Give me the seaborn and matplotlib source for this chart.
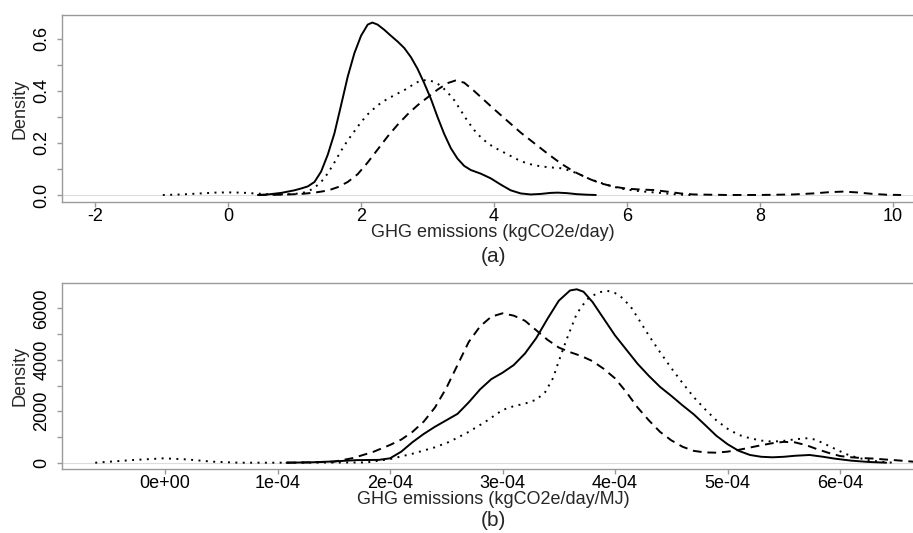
import numpy as np
import pandas as pd
import matplotlib
matplotlib.use("Agg")
import matplotlib.pyplot as plt
import seaborn as sns

# ---------------- data ----------------
# Panel (a): GHG emissions (kgCO2e/day)
a_solid_x = [0.45, 0.6, 0.8, 1.0, 1.1, 1.2, 1.3, 1.4, 1.5, 1.6, 1.7, 1.8, 1.9, 2.0, 2.1, 2.17, 2.25, 2.35, 2.45,
             2.55, 2.65, 2.75, 2.85, 2.95, 3.05, 3.15, 3.25, 3.35, 3.45, 3.55, 3.65, 3.8, 3.95, 4.1, 4.25, 4.4,
             4.55, 4.7, 4.85, 4.96, 5.1, 5.25, 5.4, 5.53]
a_solid_y = [0.0, 0.002, 0.008, 0.018, 0.025, 0.033, 0.05, 0.09, 0.155, 0.237, 0.345, 0.455, 0.545, 0.612,
             0.655, 0.663, 0.655, 0.635, 0.612, 0.59, 0.565, 0.53, 0.485, 0.43, 0.37, 0.30, 0.235, 0.18, 0.14,
             0.112, 0.096, 0.082, 0.064, 0.04, 0.018, 0.006, 0.002, 0.004, 0.008, 0.009, 0.007, 0.003, 0.001, 0.0]

a_dash_x = [0.45, 0.8, 1.1, 1.3, 1.5, 1.65, 1.8, 1.95, 2.1, 2.25, 2.4, 2.55, 2.7, 2.85, 3.0, 3.15, 3.3, 3.42,
            3.55, 3.7, 3.85, 4.0, 4.2, 4.4, 4.6, 4.8, 5.0, 5.2, 5.4, 5.6, 5.8, 6.0, 6.2, 6.4, 6.6, 6.8, 7.0,
            7.5, 8.0, 8.5, 8.8, 9.05, 9.25, 9.45, 9.7, 9.9, 10.12]
a_dash_y = [0.0, 0.001, 0.004, 0.009, 0.017, 0.03, 0.05, 0.08, 0.125, 0.175, 0.225, 0.27, 0.31, 0.345, 0.375,
            0.405, 0.43, 0.44, 0.432, 0.40, 0.365, 0.33, 0.285, 0.24, 0.2, 0.16, 0.122, 0.09, 0.065, 0.045,
            0.032, 0.024, 0.021, 0.019, 0.013, 0.006, 0.002, 0.0, 0.0, 0.002, 0.006, 0.011, 0.013, 0.010, 0.004,
            0.001, 0.0]

a_dot_x = [-0.98, -0.7, -0.41, -0.2, 0.0, 0.2, 0.4, 0.6, 0.8, 1.0, 1.1, 1.2, 1.3, 1.4, 1.5, 1.6, 1.7, 1.8, 1.9,
           2.0, 2.1, 2.25, 2.4, 2.55, 2.7, 2.8, 2.9, 3.0, 3.1, 3.2, 3.3, 3.4, 3.5, 3.6, 3.7, 3.8, 3.9, 4.0, 4.1,
           4.25, 4.4, 4.55, 4.7, 4.85, 5.0, 5.15, 5.3, 5.45, 5.6, 5.75, 5.9, 6.1, 6.3, 6.5, 6.7, 6.9, 7.0]
a_dot_y = [0.0, 0.002, 0.006, 0.009, 0.010, 0.009, 0.006, 0.003, 0.002, 0.004, 0.007, 0.013, 0.028, 0.05,
           0.083, 0.125, 0.17, 0.21, 0.245, 0.28, 0.31, 0.345, 0.37, 0.39, 0.41, 0.428, 0.44, 0.442, 0.435,
           0.42, 0.395, 0.365, 0.325, 0.285, 0.25, 0.222, 0.2, 0.183, 0.17, 0.15, 0.13, 0.118, 0.11, 0.106,
           0.103, 0.093, 0.078, 0.06, 0.047, 0.035, 0.025, 0.017, 0.012, 0.008, 0.003, 0.0, 0.0]

# Panel (b): GHG emissions (kgCO2e/day/MJ), x in units of 1e-04
b_unit = 1e-4
b_solid_x = [1.08, 1.3, 1.5, 1.7, 1.9, 2.0, 2.1, 2.2, 2.3, 2.4, 2.5, 2.6, 2.7, 2.8, 2.9, 3.0, 3.1, 3.2, 3.3,
             3.4, 3.5, 3.6, 3.66, 3.72, 3.8, 3.9, 4.0, 4.1, 4.2, 4.3, 4.4, 4.5, 4.6, 4.7, 4.8, 4.9, 5.0, 5.1,
             5.2, 5.3, 5.4, 5.5, 5.6, 5.73, 5.85, 5.95, 6.1, 6.25, 6.41]
b_solid_y = [0, 15, 50, 100, 110, 170, 430, 800, 1120, 1400, 1650, 1900, 2350, 2850, 3250, 3500, 3800, 4250,
             4850, 5600, 6300, 6700, 6745, 6650, 6250, 5600, 4950, 4400, 3850, 3380, 2950, 2600, 2230, 1880,
             1470, 1050, 720, 460, 300, 230, 210, 230, 270, 300, 230, 160, 80, 30, 0]

b_dash_x = [1.08, 1.3, 1.5, 1.67, 1.85, 2.0, 2.1, 2.2, 2.3, 2.4, 2.5, 2.6, 2.7, 2.8, 2.9, 3.0, 3.1, 3.2, 3.3,
            3.4, 3.5, 3.6, 3.7, 3.8, 3.9, 4.0, 4.1, 4.2, 4.3, 4.4, 4.5, 4.6, 4.7, 4.8, 4.9, 5.0, 5.1, 5.2, 5.3,
            5.4, 5.5, 5.6, 5.7, 5.8, 5.9, 6.0, 6.1, 6.2, 6.3, 6.4, 6.5, 6.65, 6.8]
b_dash_y = [0, 15, 40, 180, 420, 690, 900, 1200, 1600, 2150, 2900, 3800, 4700, 5300, 5680, 5811, 5720, 5520,
            5150, 4780, 4480, 4300, 4150, 3950, 3650, 3280, 2750, 2150, 1650, 1200, 870, 620, 460, 400, 390,
            430, 500, 590, 680, 760, 810, 790, 680, 520, 380, 260, 210, 180, 160, 125, 95, 40, 10]

b_dot_x = [-0.62, -0.28, -0.015, 0.19, 0.42, 0.66, 1.0, 1.5, 1.79, 2.0, 2.2, 2.4, 2.53, 2.7, 2.85, 3.0, 3.1,
           3.2, 3.3, 3.38, 3.45, 3.5, 3.57, 3.66, 3.75, 3.85, 3.93, 4.0, 4.07, 4.15, 4.2, 4.3, 4.4, 4.5, 4.6,
           4.7, 4.8, 4.9, 5.0, 5.1, 5.2, 5.3, 5.4, 5.5, 5.6, 5.7, 5.78, 5.85, 5.95, 6.05, 6.15, 6.25, 6.35, 6.47]
b_dot_y = [0, 105, 170, 130, 40, 0, 0, 5, 10, 140, 350, 600, 817, 1200, 1600, 2050, 2200, 2300, 2450, 2750,
           3300, 3950, 4800, 5800, 6350, 6620, 6690, 6600, 6395, 6000, 5650, 4950, 4300, 3680, 3100, 2550,
           2080, 1650, 1320, 1080, 950, 860, 820, 850, 910, 950, 900, 760, 550, 340, 200, 100, 40, 0]

series_names = ["solid", "dashed", "dotted"]

a_xticks = [-2, 0, 2, 4, 6, 8, 10]
a_xticklabels = ["-2", "0", "2", "4", "6", "8", "10"]
a_yticks = [0.0, 0.1, 0.2, 0.3, 0.4, 0.5, 0.6]
a_yticklabels = ["0.0", "", "0.2", "", "0.4", "", "0.6"]

b_xticks = [0, 1e-4, 2e-4, 3e-4, 4e-4, 5e-4, 6e-4]
b_xticklabels = ["0e+00", "1e-04", "2e-04", "3e-04", "4e-04", "5e-04", "6e-04"]
b_yticks = [0, 1000, 2000, 3000, 4000, 5000, 6000]
b_yticklabels = ["0", "", "2000", "", "4000", "", "6000"]

xlabel_a = "GHG emissions (kgCO2e/day)"
xlabel_b = "GHG emissions (kgCO2e/day/MJ)"
ylabel = "Density"

# ---------------- build tables ----------------
def long_df(xs, ys, scale=1.0):
    frames = []
    for name, x, y in zip(series_names, xs, ys):
        frames.append(pd.DataFrame({"x": np.asarray(x, float) * scale, "density": y, "series": name}))
    return pd.concat(frames, ignore_index=True)

df_a = long_df([a_solid_x, a_dash_x, a_dot_x], [a_solid_y, a_dash_y, a_dot_y])
df_b = long_df([b_solid_x, b_dash_x, b_dot_x], [b_solid_y, b_dash_y, b_dot_y], b_unit)

# ---------------- styling ----------------
sns.set_theme(style="white")
plt.rcParams["font.family"] = ["Liberation Sans", "DejaVu Sans"]
plt.rcParams["lines.solid_joinstyle"] = "round"
plt.rcParams["lines.dash_joinstyle"] = "round"

W, H = 913, 533
fig = plt.figure(figsize=(W / 100, H / 100), dpi=100)

dash_map = {"solid": "", "dashed": (4.5, 3.0), "dotted": (1.0, 2.8)}
frame_col = "#9a9a9a"

def style_axes(ax, xticks, xticklabels, yticks, yticklabels):
    for s in ["left", "bottom", "top"]:
        ax.spines[s].set_color(frame_col)
        ax.spines[s].set_linewidth(1.0)
    ax.spines["right"].set_visible(False)
    ax.set_xticks(xticks)
    ax.set_xticklabels(xticklabels, fontsize=13)
    ax.set_yticks(yticks)
    ax.set_yticklabels(yticklabels, fontsize=13, rotation=90, va="center")
    ax.tick_params(axis="both", which="major", direction="out", length=3.5, width=1.0,
                   color=frame_col, labelcolor="black", bottom=True, left=True)
    ax.tick_params(axis="x", pad=1.0)
    ax.tick_params(axis="y", pad=5.0)
    ax.set_xlabel("")
    ax.set_ylabel("")
    ax.axhline(0, color="#dcdcdc", lw=0.8, zorder=0)

# Panel (a)
ax_a = fig.add_axes([62 / W, 1 - 202 / H, (935 - 62) / W, 187 / H])
sns.lineplot(data=df_a, x="x", y="density", style="series", dashes=dash_map, color="black",
             linewidth=1.4, estimator=None, sort=False, legend=False, ax=ax_a)
ax_a.set_xlim(-2.496, 10.63)
ax_a.set_ylim(-0.027, 0.692)
style_axes(ax_a, a_xticks, a_xticklabels, a_yticks, a_yticklabels)

# Panel (b)
ax_b = fig.add_axes([62 / W, 1 - 469 / H, (935 - 62) / W, 186 / H])
sns.lineplot(data=df_b, x="x", y="density", style="series", dashes=dash_map, color="black",
             linewidth=1.4, estimator=None, sort=False, legend=False, ax=ax_b)
ax_b.set_xlim(-0.9156e-4, 6.844e-4)
ax_b.set_ylim(-245, 6990)
style_axes(ax_b, b_xticks, b_xticklabels, b_yticks, b_yticklabels)

# Labels
fig.text(493 / W, 1 - 232 / H, xlabel_a, ha="center", va="center", fontsize=13)
fig.text(493 / W, 1 - 256 / H, "(a)", ha="center", va="center", fontsize=15)
fig.text(493 / W, 1 - 500 / H, xlabel_b, ha="center", va="center", fontsize=13)
fig.text(493 / W, 1 - 521 / H, "(b)", ha="center", va="center", fontsize=15)
fig.text(20 / W, 1 - 108.5 / H, ylabel, ha="center", va="center", rotation=90, fontsize=13)
fig.text(20 / W, 1 - 376 / H, ylabel, ha="center", va="center", rotation=90, fontsize=13)

fig.savefig("out.png", dpi=100)
